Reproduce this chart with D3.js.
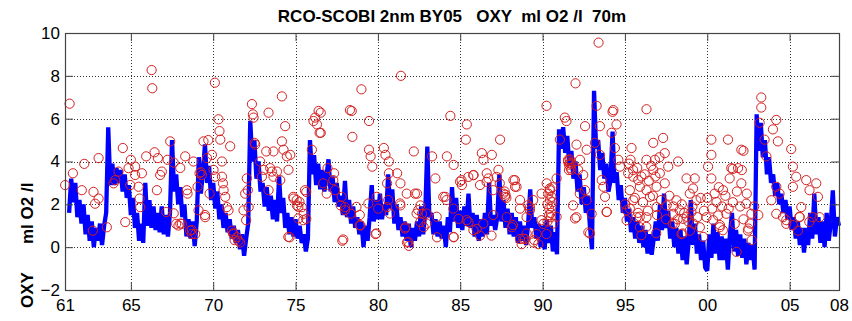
<!DOCTYPE html>
<html><head><meta charset="utf-8">
<script src="https://cdn.jsdelivr.net/npm/d3@7"></script>
<style>
body{margin:0;background:#fff}
text{font-family:"Liberation Sans",Arial,Helvetica,sans-serif}
</style>
</head><body>
<svg id="chart" width="852" height="321"></svg>
<script>
// ---------- data ----------
const titleText = "RCO-SCOBI 2nm BY05   OXY  ml O2 /l  70m";
const yLabelParts = ["OXY", "ml O2 /l"];
const xTickYears  = [1961,1965,1970,1975,1980,1985,1990,1995,2000,2005,2008];
const xTickLabels = ["61","65","70","75","80","85","90","95","00","05","08"];
const yTicks = [-2,0,2,4,6,8,10];

// model series (blue), sampled every 1/8 year from 1961.25
const modelStart = 1961.25, modelStep = 0.125;
const modelValues = [
 1.6,3.2,2.1,3.0,1.4,2.2,
 1.1,2.0,0.6,1.5,0.3,1.2,0.0,0.9,
 0.3,1.1,0.1,1.0,1.6,5.6,2.9,3.9,
 2.9,3.7,3.0,3.6,2.6,3.4,2.3,2.9,
 1.5,2.3,0.9,1.6,0.3,1.1,0.2,3.0,
 1.0,2.2,0.9,1.9,0.8,1.6,0.7,1.9,
 0.6,1.5,0.5,1.6,5.0,2.6,3.4,2.0,
 2.8,1.4,2.0,0.5,1.3,0.4,1.2,0.05,
 1.2,4.2,2.5,3.5,4.8,3.0,3.8,2.2,
 3.0,1.8,2.6,1.3,2.0,0.9,1.6,0.7,
 1.3,0.4,1.0,0.2,0.8,-0.1,0.6,-0.4,
 0.4,1.1,5.9,4.0,5.0,3.2,4.0,2.6,
 3.0,1.9,2.8,1.7,2.4,1.3,2.2,1.2,
 3.3,1.6,2.3,0.9,1.6,0.6,1.4,0.5,
 1.3,0.4,1.0,0.2,0.6,-0.2,0.4,5.0,
 3.4,4.3,2.9,3.9,2.7,3.6,2.6,3.3,
 4.1,2.6,3.3,2.1,3.0,1.9,2.4,1.5,
 3.1,1.4,2.2,1.1,1.9,0.9,1.4,0.6,
 1.2,0.0,1.0,0.3,1.4,2.9,1.2,2.2,
 1.3,2.5,1.3,2.0,1.5,3.4,1.8,2.7,
 1.1,2.0,0.8,1.4,0.5,1.2,0.3,1.1,
 0.0,0.9,0.3,1.2,0.5,1.9,0.6,1.6,
 4.7,1.4,1.6,0.6,1.3,0.5,1.2,0.4,
 1.0,0.0,1.4,0.7,2.8,1.2,2.3,0.9,
 1.7,0.8,1.9,1.0,2.5,0.9,1.6,0.5,
 1.5,0.3,1.3,0.5,1.6,0.6,3.0,1.0,
 1.5,0.8,1.4,3.4,1.2,2.2,0.9,1.8,
 0.6,1.6,0.5,1.4,0.2,1.2,0.3,1.0,
 0.1,1.1,2.7,0.9,1.4,0.4,1.1,0.0,
 1.0,-0.1,1.3,0.2,1.0,-0.2,0.7,-0.33,
 5.5,4.6,5.6,4.4,5.2,3.8,4.5,3.2,
 4.0,2.6,3.4,2.0,2.8,1.6,2.4,1.0,
 -0.1,7.3,4.6,5.0,3.6,4.4,3.2,3.9,
 2.6,3.1,5.4,3.0,3.5,2.2,2.9,1.6,
 2.3,1.2,1.8,0.7,1.4,0.4,1.2,0.2,
 1.0,0.0,0.8,-0.3,0.6,-0.35,0.4,1.2,
 0.3,2.0,0.8,2.5,0.9,1.7,0.4,1.2,
 0.0,0.9,-0.3,0.8,-0.6,0.5,-0.8,0.3,
 2.2,0.1,1.1,-0.3,0.6,-0.6,0.3,-0.95,
 -1.1,0.6,-0.5,1.1,-0.3,0.7,-0.6,0.5,
 -0.6,0.4,-1.05,0.6,1.6,-0.2,0.8,-0.4,
 0.6,-0.5,0.4,-0.8,0.2,-0.6,0.1,-1.05,
 6.2,4.5,5.8,4.2,5.0,3.4,4.2,3.0,
 3.4,2.4,3.0,2.0,2.5,1.6,2.2,1.3,
 1.9,0.8,1.4,0.4,1.2,0.1,0.9,-0.25,
 0.9,0.1,1.6,0.4,2.5,0.6,1.4,0.2,
 1.2,0.0,1.6,0.3,1.1,2.65,0.5,1.4,
 1.0
];

// observations (red circles): [decimal year, ml O2/l]
const obsPairs = [
 [1961.28,6.7],[1961.01,2.90],[1961.48,3.45],[1962.02,2.66],[1962.17,3.89],[1962.73,2.58],[1962.83,2.03],
 [1963.04,2.27],[1962.69,0.77],[1963.54,0.93],[1963.04,4.16],[1963.95,2.98],[1964.05,3.13],[1964.25,3.53],
 [1964.51,4.63],[1964.66,1.17],[1964.86,3.69],[1965.0,4.08],[1964.96,2.90],[1965.26,3.76],[1965.26,3.37],
 [1965.47,2.82],[1965.53,2.27],[1965.57,1.87],[1965.67,3.45],[1965.93,4.24],[1966.26,8.27],[1966.3,7.42],
 [1966.44,4.43],[1966.64,4.16],[1966.58,2.66],[1966.78,3.37],[1966.88,3.53],[1967.15,1.64],[1967.23,4.08],
 [1967.39,4.94],[1967.75,1.09],[1967.89,1.01],[1968.10,1.09],[1968.30,4.24],[1968.40,2.66],[1968.44,2.50],
 [1968.60,0.77],[1968.70,0.61],[1968.91,0.61],[1969.05,2.82],[1969.11,1.72],[1969.17,3.45],[1969.31,3.37],
 [1969.25,3.5],[1969.41,4.94],[1969.51,1.40],[1969.62,4.16],[1969.7,5.0],[1969.78,2.50],[1969.92,4.31],
 [1970.02,3.61],[1970.12,3.29],[1970.1,7.68],[1970.32,5.97],[1970.38,5.42],[1970.43,5.02],[1970.53,4.0],
 [1970.53,3.29],[1970.59,2.98],[1970.63,2.66],[1970.73,2.35],[1970.83,1.87],[1970.93,1.72],[1971.03,4.71],
 [1971.13,0.77],[1971.23,0.61],[1971.44,0.46],[1971.54,0.30],[1971.64,0.22],[1971.84,1.72],[1971.94,2.50],
 [1972.04,3.21],[1972.15,1.87],[1972.35,6.68],[1972.41,6.20],[1972.45,6.05],[1972.51,4.87],[1972.55,4.79],
 [1972.85,4.0],[1972.96,3.29],[1973.06,3.61],[1973.22,4.47],[1973.36,6.28],[1973.36,2.66],[1973.46,3.69],
 [1973.56,3.53],[1973.66,4.47],[1973.66,3.29],[1973.87,3.53],[1974.07,3.13],[1974.17,4.94],[1974.27,4.55],
 [1974.37,5.65],[1974.47,4.24],[1974.57,3.61],[1974.68,4.31],[1974.64,0.46],[1974.17,7.04],[1974.88,2.27],
 [1975.08,1.95],[1975.24,2.11],[1975.38,1.87],[1975.49,1.56],[1975.65,2.58],[1975.65,1.32],[1975.99,4.55],
 [1976.09,5.89],[1976.19,6.05],[1976.30,5.73],[1976.40,6.36],[1976.46,5.34],
 [1967.6,1.58],[1968.0,1.1],[1968.7,0.8],[1969.5,1.5],[1971.2,0.65],[1971.3,0.33],[1972.0,1.26],
 [1967.6,3.95],[1968.0,3.7],[1968.8,4.0],[1972.1,2.66],
 [1976.53,6.28],[1976.53,5.34],[1978.41,6.36],[1979.46,5.89],[1978.45,5.15],[1979.0,7.37],[1979.46,4.55],
 [1979.56,4.24],[1979.66,3.76],[1980.36,4.63],[1980.46,4.31],[1980.67,4.0],[1980.67,3.45],[1981.17,3.45],
 [1981.37,2.98],[1982.18,4.47],[1982.38,2.50],[1981.37,1.95],[1982.58,1.95],[1982.68,1.56],[1983.29,4.24],
 [1983.49,3.21],[1984.19,4.24],[1984.60,3.84],[1984.09,2.35],[1984.40,6.13],[1985.40,5.73],[1985.34,5.02],
 [1984.99,3.06],[1985.10,2.90],[1985.81,3.37],[1986.31,4.39],[1986.41,4.08],[1986.92,4.31],[1986.61,3.45],
 [1986.71,3.21],[1987.32,3.61],[1987.42,5.02],[1987.62,2.50],[1987.72,2.35],[1988.23,3.13],[1988.33,2.82],
 [1987.82,1.40],[1988.63,1.80],[1989.03,1.40],[1988.93,0.38],[1989.44,0.22],[1989.64,0.61],[1989.23,1.87],
 [1990.24,6.60],[1990.44,2.74],[1990.54,2.35],[1990.85,3.21],[1991.05,5.02],[1991.35,6.05],[1991.45,5.89],
 [1991.55,4.08],[1991.65,3.92],[1991.75,3.61],[1992.06,4.79],[1992.16,3.61],[1992.26,2.50],[1992.06,1.40],
 [1991.85,1.95],[1977.84,0.30],[1978.95,1.01],[1979.86,0.61],[1981.67,0.93],[1981.77,0.22],[1981.88,0.06],
 [1982.58,1.17],[1982.78,0.93],[1983.59,0.46],[1984.60,0.46],[1984.90,1.32],[1985.5,1.17],[1986.0,0.85],
 [1986.2,0.54],[1986.9,0.54],[1988.13,0.93],[1988.63,0.38],[1988.73,0.14],[1989.74,0.14],[1990.04,1.09],
 [1990.24,0.61],[1977.74,1.95],[1977.34,3.45],[1976.94,3.69],[1977.4,2.66],[1978.0,1.87],[1978.35,1.56],
 [1980.56,1.87],[1980.56,2.98],[1978.3,6.4],[1981.4,8.0],[1992.0,7.65],
 [1991.55,4.0],[1991.6,3.85],[1991.65,4.1],[1991.7,3.7],[1991.75,3.9],[1991.6,3.6],
 [1990.3,2.0],[1990.4,1.8],[1990.45,2.2],[1990.5,1.6],[1990.55,1.9],[1990.5,1.4],[1990.6,2.1],[1990.4,1.5],
 [1990.35,2.5],[1990.6,2.8],[1990.3,1.2],[1987.7,2.6],[1987.8,2.3],[1987.75,2.45],
 [1974.86,2.35],[1975.07,2.2],[1975.17,1.88],[1975.57,2.66],[1976.68,2.98],[1976.89,2.5],[1977.29,3.13],
 [1977.8,2.35],[1978.0,1.73],[1978.7,1.88],[1978.9,1.5],[1979.42,2.04],[1979.93,2.35],[1980.02,1.8],
 [1980.63,2.2],[1981.34,2.04],[1981.75,2.5],[1982.25,2.5],[1982.45,1.73],[1982.96,1.57],[1983.97,2.35],
 [1984.17,2.2],[1984.58,1.8],[1985.08,3.13],[1985.49,3.28],[1985.79,3.36],[1986.2,2.9],[1986.6,3.05],
 [1987.0,2.66],[1987.21,3.28],[1987.4,2.98],[1988.32,3.13],[1988.42,2.82],[1988.63,2.2],[1989.13,1.96],
 [1989.23,1.73],[1989.43,2.2],[1989.94,2.5],[1990.25,2.98],[1990.45,2.66],
 [1974.56,0.48],[1975.17,1.34],[1975.47,1.26],[1977.9,0.36],[1978.9,1.03],[1979.9,0.64],[1980.73,1.57],
 [1981.64,0.87],[1981.84,0.25],[1982.35,1.57],[1982.96,1.1],[1983.57,1.42],[1984.6,0.48],[1985.39,1.26],
 [1985.8,0.79],[1986.4,1.1],[1987.0,1.5],[1988.2,1.03],[1988.83,0.4],[1989.03,0.64],[1989.5,0.33],
 [1989.94,1.26],[1990.65,1.1],[1990.85,1.42],
 [1992.27,4.08],[1992.58,5.65],[1992.68,4.55],[1992.47,3.37],[1992.58,2.66],[1992.68,2.19],[1992.98,1.56],
 [1992.78,0.69],[1993.28,6.60],[1993.4,9.55],[1993.48,5.65],[1993.18,4.87],[1993.48,4.31],[1993.59,3.13],
 [1993.69,2.82],[1993.79,2.35],[1993.89,1.64],[1994.25,6.32],[1994.19,5.34],[1994.49,5.73],[1994.39,4.63],
 [1994.60,4.08],[1994.70,3.76],[1995.40,4.63],[1995.34,4.08],[1995.20,3.45],[1995.51,3.29],[1995.81,3.13],
 [1995.30,2.66],[1995.91,2.82],[1995.51,2.19],[1995.10,1.72],[1995.71,1.40],[1995.91,0.93],[1996.31,6.44],
 [1996.72,4.87],[1997.32,5.10],[1997.42,4.39],[1996.82,4.08],[1996.31,4.08],[1996.72,3.61],[1997.12,3.45],
 [1997.63,3.76],[1998.23,4.0],[1997.42,2.98],[1996.92,2.82],[1996.31,2.66],[1996.52,2.35],[1996.92,1.87],
 [1996.31,1.40],[1997.53,1.95],[1998.13,2.19],[1997.93,1.56],[1998.33,1.72],[1998.74,3.21],[1999.24,3.21],
 [1999.14,2.74],[1998.94,2.50],[1999.34,2.19],[1999.04,1.64],[1998.54,1.32],[1998.03,1.09],[1998.43,0.61],
 [1998.94,0.77],[1999.55,0.93],[2000.25,5.02],[2001.26,5.02],[2000.25,4.31],[2000.05,3.76],[2000.25,3.21],
 [2001.46,3.69],[2002.07,4.55],[2001.87,3.69],[2002.07,2.98],[2001.36,3.21],[2000.96,2.66],[2000.56,2.11],
 [2000.66,1.48],[2001.16,1.56],[1999.95,1.40],[2000.76,0.93],[2001.67,1.09],[2002.37,2.03],[2002.68,1.56],
 [2002.47,0.77],[2003.28,6.99],[2003.28,6.52],[2004.19,5.94],[2003.99,5.50],[2004.29,4.94],[2003.18,5.81],
 [2003.48,5.02],[2003.59,4.24],[2005.10,4.58],[2005.20,3.76],[2005.40,3.29],[2005.20,2.82],[2006.01,3.13],
 [2006.62,2.98],[2006.21,2.66],[2005.71,1.87],[2004.19,2.82],[2004.39,2.50],[2003.89,2.19],[2004.19,1.56],
 [2004.6,1.40],[2004.80,1.09],[2005.51,0.77],[2006.41,1.40],[2006.72,2.35],[2006.82,1.40],[2005.61,1.40],
 [1994.3,6.4],[2002.2,4.5],[2002.1,3.6],[2001.55,3.65],
 [1995.25,3.9],[1995.5,3.6],[1995.75,3.7],[1996.0,3.3],[1996.2,3.4],[1996.45,3.1],[1996.6,3.8],[1996.85,3.3],[1997.1,4.2],
 [1995.0,2.0],[1995.3,1.8],[1995.6,2.3],[1995.8,1.6],[1996.1,2.1],[1996.4,1.7],[1996.7,2.4],[1996.95,1.5],
 [1997.2,2.2],[1997.5,1.3],[1997.7,2.4],[1997.95,1.9],[1998.2,1.3],[1998.45,2.0],[1998.6,1.6],[1998.85,1.2],
 [1999.1,1.9],[1999.4,1.4],[1999.6,2.3],[1999.8,1.7],[2000.0,2.3],[2000.3,1.8],[2000.45,2.5],[2000.7,2.8],
 [2000.9,1.9],[2001.1,2.4],[2001.3,1.8],[2001.55,2.1],[2001.8,2.6],[2002.0,1.9],[2002.2,1.3],[2002.4,2.5],
 [2002.6,1.1],[2002.85,1.9],
 [1991.97,1.34],[1992.88,0.64],[1993.9,1.65],[1995.1,1.26],[1995.9,1.42],[1996.0,0.56],[1996.3,0.95],
 [1996.9,0.65],[1997.9,1.1],[1998.5,0.64],[1998.75,1.42],[1999.15,1.1],[1999.75,0.48],[2000.36,1.26],
 [2000.77,1.03],[2000.95,0.79],[2001.78,-0.22],[2002.5,0.87],[2002.7,0.33],[2003.1,1.5],[2004.8,1.26],
 [2005.2,1.03],[2005.6,1.42],[2006.2,1.18]
];

// ---------- layout ----------
const mLeft = 65, mRight = 839, mTop = 33, mBottom = 290;
const svg = d3.select("#chart");

const x = d3.scaleLinear().domain([1961, 2008]).range([mLeft, mRight]);
const y = d3.scaleLinear().domain([-2, 10]).range([mBottom, mTop]);

// grid
const grid = svg.append("g").attr("stroke", "#333").attr("stroke-width", 1).attr("stroke-dasharray", "1,2");
grid.selectAll(".gx").data(xTickYears.slice(1, -1)).join("line")
  .attr("x1", d => Math.round(x(d)) + 0.5).attr("x2", d => Math.round(x(d)) + 0.5)
  .attr("y1", mTop).attr("y2", mBottom);
grid.selectAll(".gy").data(yTicks.slice(1, -1)).join("line")
  .attr("y1", d => Math.round(y(d)) + 0.5).attr("y2", d => Math.round(y(d)) + 0.5)
  .attr("x1", mLeft).attr("x2", mRight);

// model line
const modelData = modelValues.map((v, i) => [modelStart + i * modelStep, v]);
svg.append("path").datum(modelData)
  .attr("fill", "none").attr("stroke", "#0000ff").attr("stroke-width", 4.3)
  .attr("stroke-linejoin", "miter").attr("stroke-miterlimit", 2)
  .attr("d", d3.line().x(d => x(d[0])).y(d => y(d[1])));

// observations
svg.append("g").selectAll("circle").data(obsPairs).join("circle")
  .attr("cx", d => x(d[0])).attr("cy", d => y(d[1])).attr("r", 4.6)
  .attr("fill", "none").attr("stroke", "#d42020").attr("stroke-width", 1);

// axes
const fs = 17;
const xAxis = d3.axisBottom(x).tickValues(xTickYears)
  .tickFormat((d, i) => xTickLabels[i]).tickSizeInner(-8).tickSizeOuter(0).tickPadding(9);
const gx = svg.append("g").attr("transform", `translate(0,${mBottom})`).call(xAxis);
const xTop = d3.axisTop(x).tickValues(xTickYears).tickFormat("").tickSizeInner(-8).tickSizeOuter(0);
const gxt = svg.append("g").attr("transform", `translate(0,${mTop})`).call(xTop);
const yAxis = d3.axisLeft(y).tickValues(yTicks).tickSizeInner(-8).tickSizeOuter(0).tickPadding(5);
const gy = svg.append("g").attr("transform", `translate(${mLeft},0)`).call(yAxis);
const yRight = d3.axisRight(y).tickValues(yTicks).tickFormat("").tickSizeInner(-8).tickSizeOuter(0);
const gyr = svg.append("g").attr("transform", `translate(${mRight},0)`).call(yRight);
[gx, gxt, gy, gyr].forEach(g => {
  g.select(".domain").remove();
  g.selectAll(".tick line").attr("stroke", "#444").attr("stroke-width", 1);
  g.selectAll("text").attr("font-size", fs).attr("fill", "#000")
   .attr("font-family", '"Liberation Sans",Arial,sans-serif');
});

// box
svg.append("rect").attr("x", mLeft + 0.5).attr("y", mTop + 0.5)
  .attr("width", mRight - mLeft).attr("height", mBottom - mTop)
  .attr("fill", "none").attr("stroke", "#444").attr("stroke-width", 1.2);

// title
svg.append("text").attr("x", (mLeft + mRight) / 2).attr("y", 22)
  .attr("text-anchor", "middle").attr("font-size", 17).attr("font-weight", "bold")
  .style("white-space", "pre").text(titleText);

// y label (rotated)
svg.append("text").attr("transform", "translate(33,308) rotate(-90)")
  .attr("font-size", 17).attr("font-weight", "bold").text(yLabelParts[0]);
svg.append("text").attr("transform", "translate(33,244) rotate(-90)")
  .attr("font-size", 17).attr("font-weight", "bold").text(yLabelParts[1]);
</script>
</body></html>
